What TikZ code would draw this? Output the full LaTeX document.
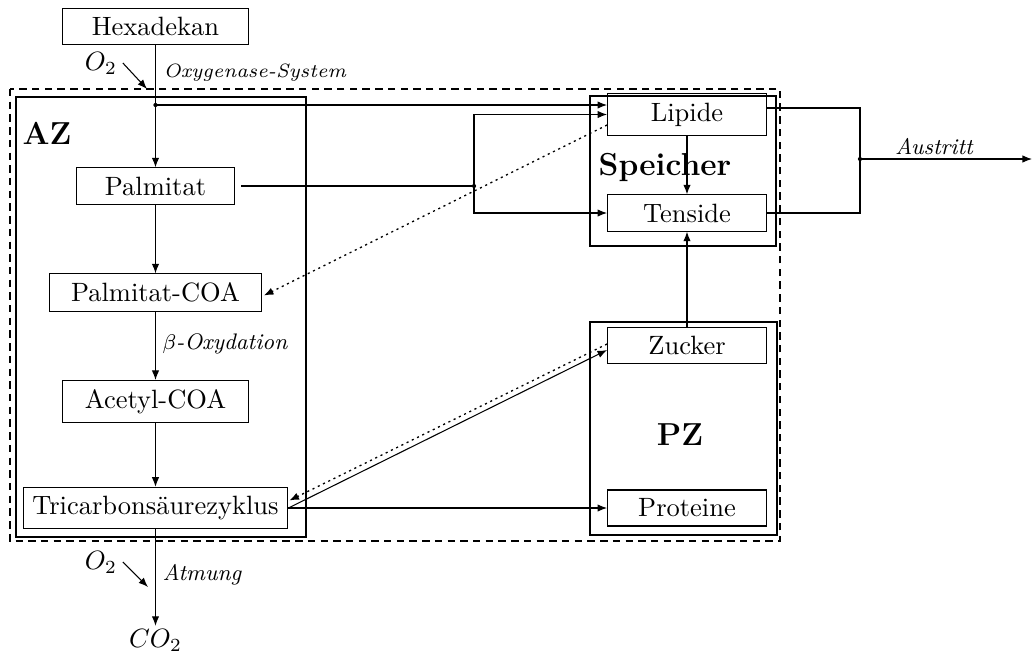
\documentclass[tikz,border=0pt]{standalone}
\usetikzlibrary{arrows.meta,calc}
\begin{document}
\begin{tikzpicture}[x=0.3777pt,y=-0.3777pt,
  box/.style={draw,line width=0.4pt,inner sep=3.33pt},
  frame/.style={draw,line width=0.8pt},
  region/.style={draw,line width=0.4pt,dash pattern=on 2.8pt off 2pt},
  arr/.style={-{Latex[length=3.6pt,width=2.8pt]}},
  dots/.style={line width=0.5pt,dash pattern=on 0.8pt off 1.4pt},
  lbl/.style={font=\fontsize{8.5}{10}\selectfont\itshape,inner sep=0pt},
  title/.style={font=\large\bfseries,inner sep=0pt},
  jdot/.style={circle,fill,inner sep=0pt,minimum size=1.6pt},
]
\useasboundingbox (0,0) rectangle (1033,653);

% compartments
\draw[region] (10,89) rectangle (780,541);
\draw[frame] (16,97) rectangle (306,537);
\draw[frame] (590,96) rectangle (776,246);
\draw[frame] (590,322) rectangle (777,535);
\node[title] (azl) at (47,133) {AZ};
\node[title] (spl) at (665,167) {Speicher};
\node[title] (pzl) at (680,435) {PZ};

% substances
\node[box,minimum width=70pt] (hex) at (155.5,26.5) {Hexadekan};
\node[box,minimum width=60pt] (palm) at (155.5,186) {Palmitat};
\node[box,minimum width=80pt] (pcoa) at (155.5,292.5) {Palmitat-COA};
\node[box,minimum width=70pt] (acoa) at (155.5,401.5) {Acetyl-COA};
\node[box,minimum width=100pt] (tca) at (155.5,508) {Tricarbonsäurezyklus};
\node[box,minimum width=60pt] (lip) at (687,114.5) {Lipide};
\node[box,minimum width=60pt] (tens) at (687,213) {Tenside};
\node[box,minimum width=60pt] (zuck) at (687,345.5) {Zucker};
\node[box,minimum width=60pt] (prot) at (687,508) {Proteine};
\node[inner sep=1pt] (co2) at (155.5,640) {$CO_2$};

% oxygen inputs
\node[inner sep=2pt] (o2a) at (101,63) {$O_2$};
\coordinate (o2ain) at (147,89);
\node[inner sep=2pt] (o2b) at (101,562) {$O_2$};
\coordinate (o2bin) at (148,587);
\draw[arr] (o2a.east) -- (o2ain);
\draw[arr] (o2b.east) -- (o2bin);

% process labels
\node[lbl,font=\fontsize{7.3}{9}\selectfont\itshape,anchor=west] (oxy) at (163,73) {Oxygenase-System};
\node[lbl,anchor=west] (beta) at (162,344) {$\beta$-Oxydation};
\node[lbl,anchor=west] (atm) at (162,575) {Atmung};
\node[lbl] (aus) at (934,147) {Austritt};

% junctions
\node[jdot] (d1) at (155.5,105) {};
\node[jdot] (d2) at (474,186) {};
\node[jdot] (d3) at (860,159) {};
\coordinate (exit) at (1032,159);

% degradation chain
\draw (hex.south) -- (d1.center);
\draw[arr] (d1.center) -- (palm.north);
\draw[arr] (palm) -- (pcoa);
\draw[arr] (pcoa) -- (acoa);
\draw[arr] (acoa) -- (tca);
\draw[arr] (tca) -- (co2);

% storage
\draw[arr] (d1.center) -- (d1 -| lip.west);
\draw[shorten <=2.2pt] (palm.east) -- (d2.center);
\draw[arr] (d2.center) |- (lip.west);
\draw[arr] (d2.center) |- (tens.west);
\draw[arr] (lip.south) -- (tens.north);
\draw[arr] (zuck.north) -- (tens.south);
\draw[arr,dots] ($(lip.west)+(0,10.5)$) -- ($(pcoa.east)+(2,3)$);

% production
\draw[arr] (tca.east) -- (prot.west);
\draw[arr] (tca.east) -- ($(zuck.west)+(0,4.5)$);
\draw[arr,dots] ($(zuck.west)+(0,-1.5)$) -- ($(tca.east)+(1,-7.5)$);

% output
\draw ($(lip.east)+(0,-6.5)$) -| (d3.center);
\draw (tens.east) -| (d3.center);
\draw[arr] (d3.center) -- (exit);
\end{tikzpicture}
\end{document}
